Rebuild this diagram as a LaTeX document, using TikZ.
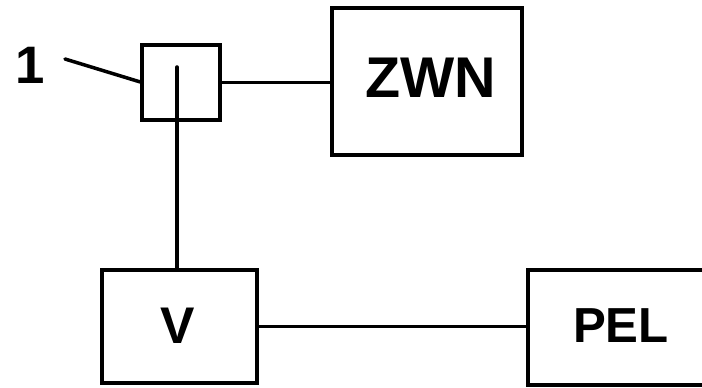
\documentclass[tikz,border=0pt]{standalone}
\usepackage{fontspec}
\setmainfont{Liberation Sans}
\usetikzlibrary{positioning,calc}

\begin{document}
\begin{tikzpicture}[x=0.3mm,y=-0.3mm,line width=3pt,line cap=round,
  blk/.style={draw,line width=3pt,inner sep=0pt,outer sep=0pt},
  lbl/.style={font=\bfseries\fontsize{#1}{#1}\selectfont}]
  \clip (0,0) rectangle (702,387);
  % blocks
  \node[blk,minimum width=23.4mm,minimum height=22.5mm] (relay) at (181,82.5) {};
  \node[blk,minimum width=57mm,minimum height=44.1mm] (zwn) at (427,81.5) {};
  \node[blk,minimum width=46.5mm,minimum height=33.9mm] (volt) at (179.5,326.5) {};
  \node[blk,minimum width=63.6mm,minimum height=34.5mm] (pel) at (634,327.5) {};
  % texts
  \node[lbl=49] at (431,78) {ZWN};
  \node[lbl=44] at (178,326) {V};
  \node[lbl=42] at (621,326) {PEL};
  \node[lbl=45,inner sep=0pt] (one) at (30,65) {1};
  % connectors
  \coordinate (lead) at (65,59);
  \coordinate (tap) at (177,67);
  \draw (lead) -- (relay.west);
  \draw (relay.east) -- (relay.east -| zwn.west);
  \draw (tap) -- (tap |- volt.north);
  \draw (volt.east) -- (volt.east -| pel.west);
\end{tikzpicture}
\end{document}
